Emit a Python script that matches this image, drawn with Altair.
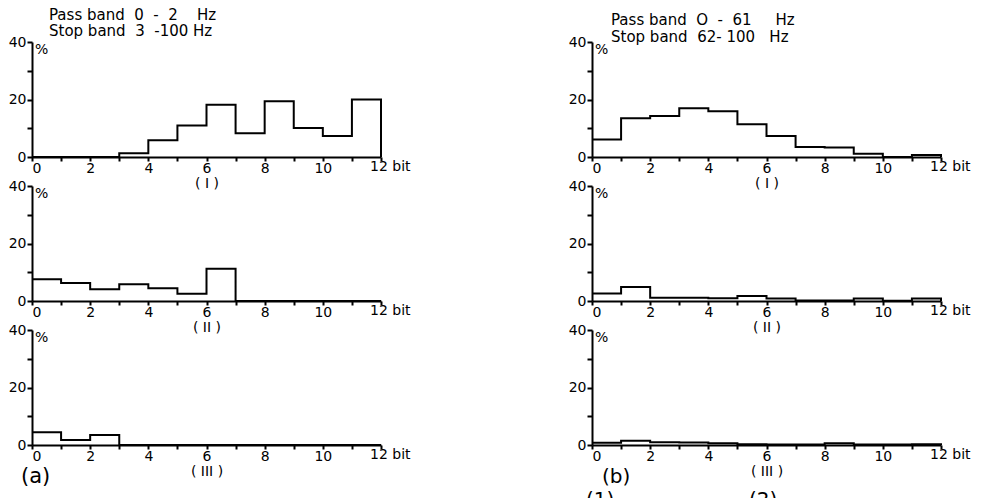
import altair as alt
import pandas as pd

# ---- data (percent of samples per bit bin, bins 0-1 ... 11-12) ----
bit_ticks = list(range(13))
left_I = [0, 0, 0, 1.3, 5.8, 11.0, 18.2, 8.3, 19.4, 10.1, 7.3, 20.0]
left_II = [7.6, 6.3, 4.1, 5.8, 4.4, 2.5, 11.2, 0, 0, 0, 0, 0]
left_III = [4.4, 1.7, 3.5, 0, 0, 0, 0, 0, 0, 0, 0, 0]
right_I = [6.1, 13.5, 14.3, 17.0, 15.9, 11.4, 7.3, 3.5, 3.3, 1.1, 0, 0.7]
right_II = [2.6, 4.9, 1.1, 1.1, 1.0, 1.7, 0.9, 0.2, 0.2, 0.9, 0.1, 0.9]
right_III = [0.8, 1.5, 1.0, 0.9, 0.6, 0.3, 0.2, 0.2, 0.6, 0.2, 0.2, 0.3]
romans = ["( I )", "( II )", "( III )"]
NB = "\u00a0"
left_header = [f"Pass band{NB*2}0{NB*2}-{NB*2}2{NB*4}Hz", f"Stop band{NB*2}3{NB*2}-100{NB}Hz"]
right_header = [f"Pass band{NB*2}O{NB*2}-{NB*2}61{NB*5}Hz", f"Stop band{NB*2}62-{NB}100{NB*3}Hz"]
y_ticks = [0, 10, 20, 30, 40]

FONT = "DejaVu Sans"
W, H = 349, 115


def step_df(vals):
    xs = list(range(12)) + [12, 12]
    ys = list(vals) + [vals[-1], 0]
    return pd.DataFrame({"x": xs, "y": ys, "i": list(range(len(xs)))})


def encodings(roman):
    x = alt.X("x:Q", scale=alt.Scale(domain=[0, 12], nice=False),
              axis=alt.Axis(values=bit_ticks,
                            labelExpr="datum.value % 2 == 0 && datum.value < 12 ? datum.label : ''",
                            title=roman, titlePadding=1, titleFontSize=14,
                            titleFont=FONT, titleFontWeight="normal",
                            tickSize=4, labelPadding=0))
    y = alt.Y("y:Q", scale=alt.Scale(domain=[0, 40], nice=False),
              axis=alt.Axis(values=y_ticks,
                            labelExpr="datum.value % 20 == 0 ? datum.label : ''",
                            title=None, tickSize=5, labelPadding=1))
    return x, y


def panel(vals, roman, extra=None):
    x, y = encodings(roman)
    line = alt.Chart(step_df(vals)).mark_line(
        interpolate="step-after", color="black", strokeWidth=2
    ).encode(x=x, y=y, order="i:Q")
    pct = alt.Chart(pd.DataFrame({"x": [0], "y": [40], "t": ["%"]})).mark_text(
        align="left", baseline="top", dx=3, dy=1, fontSize=14, font=FONT, color="black"
    ).encode(x=x, y=y, text="t:N")
    bit = alt.Chart(pd.DataFrame({"x": [12], "y": [0], "t": ["12 bit"]})).mark_text(
        align="left", baseline="top", dx=-11, dy=3, fontSize=14, font=FONT, color="black"
    ).encode(x=x, y=y, text="t:N")
    layers = [line, pct, bit] + (extra or [])
    return alt.layer(*layers).properties(width=W, height=H)


def note(text, x, y, size, line_height=15):
    return alt.Chart(pd.DataFrame({"t": [text]})).mark_text(
        align="left", baseline="top", fontSize=size, font=FONT, color="black",
        lineBreak="\n", lineHeight=line_height
    ).encode(x=alt.value(x), y=alt.value(y), text="t:N")


panels = [
    panel(left_I, romans[0], [note("\n".join(left_header), 17, -34, 15, 16)]),
    panel(right_I, romans[0], [note("\n".join(right_header), 19, -29, 15, 17)]),
    panel(left_II, romans[1]),
    panel(right_II, romans[1]),
    panel(left_III, romans[2], [note("(a)", -11, H + 21, 21)]),
    panel(right_III, romans[2], [note("(b)", 10, H + 22, 20),
                                 note("(1)", -6, H + 45, 20),
                                 note("(2)", 157, H + 45, 20)]),
]

chart = alt.concat(
    *panels, columns=2, spacing=alt.RowColnumber(row=29, column=211), bounds="flush"
).properties(
    padding=0, background="white"
).configure_view(stroke=None).configure_axis(
    grid=False, domainColor="black", domainWidth=2, tickColor="black", tickWidth=2,
    labelFont=FONT, labelFontSize=14, labelColor="black", titleColor="black",
)

chart.save("out.html", embed_options={"renderer": "svg", "actions": False})
